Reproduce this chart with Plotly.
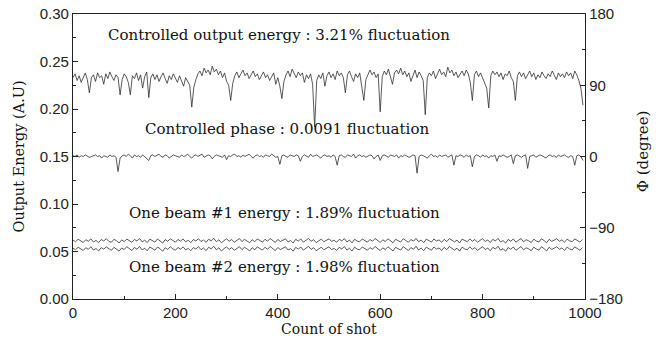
import plotly.graph_objects as go

shots_fine = list(range(0, 1000, 4))
shots_coarse = list(range(0, 1000, 5))

energy = [
    0.233,0.237,0.230,0.235,0.228,0.234,0.238,0.231,0.217,0.233,
    0.236,0.229,0.238,0.233,0.235,0.226,0.237,0.232,0.239,0.234,
    0.230,0.236,0.233,0.215,0.231,0.237,0.234,0.228,0.215,0.235,
    0.232,0.238,0.230,0.236,0.222,0.234,0.239,0.212,0.233,0.237,
    0.231,0.236,0.229,0.234,0.238,0.232,0.227,0.235,0.231,0.237,
    0.233,0.228,0.235,0.230,0.224,0.233,0.229,0.225,0.202,0.223,
    0.231,0.237,0.240,0.235,0.243,0.238,0.241,0.236,0.245,0.239,
    0.242,0.236,0.240,0.233,0.238,0.229,0.225,0.209,0.227,0.235,
    0.239,0.233,0.237,0.241,0.235,0.238,0.232,0.236,0.240,0.234,
    0.237,0.231,0.235,0.239,0.233,0.236,0.230,0.234,0.238,0.226,
    0.233,0.224,0.211,0.229,0.236,0.240,0.234,0.242,0.237,0.233,
    0.239,0.235,0.238,0.228,0.236,0.232,0.237,0.226,0.181,0.230,
    0.236,0.232,0.238,0.224,0.235,0.239,0.233,0.237,0.231,0.240,
    0.235,0.238,0.233,0.217,0.236,0.240,0.234,0.229,0.237,0.233,
    0.238,0.223,0.209,0.231,0.237,0.241,0.236,0.239,0.233,0.237,
    0.197,0.234,0.240,0.236,0.242,0.235,0.226,0.238,0.241,0.237,
    0.243,0.236,0.240,0.234,0.238,0.229,0.236,0.241,0.233,0.239,
    0.235,0.230,0.194,0.233,0.238,0.235,0.240,0.232,0.237,0.242,
    0.236,0.239,0.234,0.244,0.238,0.241,0.235,0.239,0.233,0.237,
    0.240,0.235,0.241,0.237,0.228,0.209,0.236,0.240,0.234,0.238,
    0.232,0.226,0.222,0.201,0.235,0.240,0.236,0.239,0.234,0.238,
    0.231,0.237,0.235,0.240,0.233,0.229,0.209,0.235,0.239,0.234,
    0.238,0.232,0.236,0.240,0.234,0.238,0.231,0.236,0.233,0.239,
    0.235,0.232,0.237,0.234,0.240,0.236,0.231,0.238,0.234,0.237,
    0.233,0.239,0.235,0.238,0.232,0.240,0.236,0.230,0.222,0.204,
]

phase = [
    1,0,2,-1,1,0,2,1,-1,0,
    1,2,0,1,-2,1,0,-1,2,0,
    1,-1,-19,-2,1,2,0,3,1,-2,
    2,0,1,-1,2,0,-2,-5,1,2,
    0,1,3,0,-1,2,1,-2,0,2,
    1,0,-1,2,0,1,3,0,-2,1,
    2,0,1,3,-1,0,2,1,-3,0,
    2,1,0,-1,2,-4,1,0,2,3,
    0,1,-1,2,0,1,3,0,-2,1,
    2,0,1,-1,2,1,0,3,1,-1,
    0,-10,1,2,0,-1,2,1,0,2,
    1,-6,0,2,1,-1,3,0,1,2,
    0,-2,1,2,0,1,-1,2,0,-11,
    1,2,0,-1,2,1,0,3,-2,1,
    2,0,1,-1,0,2,1,-3,0,2,
    -5,1,2,0,-1,2,1,0,2,-2,
    1,0,2,1,-1,0,2,1,-21,0,
    2,1,0,-2,1,3,0,1,-1,2,
    0,1,2,-1,0,2,-11,1,0,2,
    1,-1,2,0,1,-13,0,2,1,-1,
    2,0,1,-2,1,0,2,-6,1,0,
    2,1,-1,0,2,-9,1,2,0,-1,
    1,2,-15,0,1,2,-1,0,2,1,
    0,-2,1,2,0,1,-1,2,0,1,
    2,0,-1,1,0,-11,1,2,0,-5,
]

beam1 = [
    0.0618,0.0603,0.0629,0.0611,0.0596,0.0624,0.0608,0.0633,0.0600,0.0617,
    0.0592,0.0626,0.0610,0.0635,0.0606,0.0598,0.0628,0.0614,0.0590,0.0622,
    0.0604,0.0631,0.0612,0.0597,0.0627,0.0609,0.0637,0.0601,0.0619,0.0594,
    0.0630,0.0611,0.0599,0.0632,0.0615,0.0589,0.0625,0.0607,0.0634,0.0613,
    0.0598,0.0627,0.0609,0.0632,0.0602,0.0618,0.0593,0.0626,0.0611,0.0635,
    0.0605,0.0620,0.0596,0.0629,0.0612,0.0638,0.0603,0.0623,0.0591,0.0615,
    0.0633,0.0608,0.0626,0.0597,0.0617,0.0636,0.0604,0.0628,0.0610,0.0593,
    0.0624,0.0603,0.0632,0.0614,0.0599,0.0629,0.0608,0.0637,0.0612,0.0595,
    0.0627,0.0605,0.0619,0.0634,0.0601,0.0616,0.0589,0.0628,0.0610,0.0632,
    0.0598,0.0617,0.0638,0.0607,0.0625,0.0594,0.0613,0.0630,0.0603,0.0621,
    0.0633,0.0606,0.0618,0.0597,0.0628,0.0612,0.0636,0.0601,0.0620,0.0591,
    0.0629,0.0610,0.0603,0.0632,0.0615,0.0598,0.0626,0.0608,0.0637,0.0613,
    0.0595,0.0623,0.0606,0.0634,0.0617,0.0592,0.0628,0.0611,0.0600,0.0635,
    0.0614,0.0597,0.0626,0.0609,0.0638,0.0602,0.0621,0.0593,0.0630,0.0612,
    0.0599,0.0632,0.0610,0.0622,0.0596,0.0628,0.0604,0.0636,0.0615,0.0601,
    0.0620,0.0590,0.0630,0.0612,0.0603,0.0633,0.0608,0.0626,0.0597,0.0617,
    0.0635,0.0605,0.0622,0.0594,0.0628,0.0611,0.0638,0.0601,0.0615,0.0589,
    0.0627,0.0608,0.0632,0.0599,0.0618,0.0636,0.0603,0.0624,0.0613,0.0595,
    0.0630,0.0610,0.0600,0.0634,0.0615,0.0592,0.0628,0.0606,0.0620,0.0635,
    0.0607,0.0623,0.0597,0.0630,0.0612,0.0603,0.0633,0.0617,0.0599,0.0626,
]

beam2 = [
    0.0534,0.0519,0.0545,0.0527,0.0511,0.0540,0.0523,0.0550,0.0515,0.0532,
    0.0506,0.0541,0.0524,0.0549,0.0529,0.0512,0.0544,0.0526,0.0504,0.0537,
    0.0520,0.0551,0.0528,0.0510,0.0542,0.0524,0.0553,0.0516,0.0534,0.0507,
    0.0547,0.0527,0.0514,0.0548,0.0530,0.0502,0.0540,0.0521,0.0551,0.0528,
    0.0513,0.0543,0.0524,0.0549,0.0517,0.0533,0.0508,0.0541,0.0526,0.0552,
    0.0519,0.0536,0.0510,0.0545,0.0528,0.0555,0.0518,0.0539,0.0505,0.0531,
    0.0548,0.0522,0.0541,0.0512,0.0532,0.0551,0.0519,0.0544,0.0527,0.0507,
    0.0540,0.0517,0.0549,0.0530,0.0514,0.0545,0.0523,0.0553,0.0528,0.0509,
    0.0542,0.0520,0.0535,0.0550,0.0516,0.0531,0.0503,0.0544,0.0525,0.0547,
    0.0514,0.0532,0.0555,0.0522,0.0540,0.0508,0.0528,0.0546,0.0518,0.0536,
    0.0550,0.0520,0.0533,0.0511,0.0544,0.0527,0.0552,0.0515,0.0535,0.0505,
    0.0546,0.0525,0.0518,0.0548,0.0530,0.0513,0.0541,0.0523,0.0553,0.0528,
    0.0509,0.0538,0.0521,0.0550,0.0532,0.0506,0.0544,0.0526,0.0515,0.0551,
    0.0529,0.0511,0.0542,0.0524,0.0555,0.0516,0.0536,0.0508,0.0546,0.0527,
    0.0513,0.0548,0.0525,0.0538,0.0510,0.0543,0.0519,0.0552,0.0530,0.0515,
    0.0535,0.0504,0.0546,0.0527,0.0518,0.0549,0.0523,0.0541,0.0512,0.0532,
    0.0551,0.0520,0.0537,0.0508,0.0544,0.0526,0.0555,0.0515,0.0530,0.0502,
    0.0542,0.0523,0.0548,0.0513,0.0533,0.0552,0.0518,0.0539,0.0528,0.0509,
    0.0546,0.0525,0.0514,0.0550,0.0530,0.0506,0.0544,0.0521,0.0535,0.0551,
    0.0522,0.0538,0.0511,0.0546,0.0527,0.0517,0.0549,0.0532,0.0513,0.0541,
]

labels = [
    "Controlled output energy : 3.21% fluctuation",
    "Controlled phase : 0.0091 fluctuation",
    "One beam #1 energy : 1.89% fluctuation",
    "One beam #2 energy : 1.98% fluctuation",
]
label_x = [402, 418, 414, 414]
label_y = [0.278, 0.179, 0.0905, 0.0337]

x_ticks = [0, 200, 400, 600, 800, 1000]
y_ticks = [0.00, 0.05, 0.10, 0.15, 0.20, 0.25, 0.30]
y2_ticks = [-180, -90, 0, 90, 180]

line_style = dict(color="#2e2e2e", width=0.8)
serif = "DejaVu Serif"
sans = "Liberation Sans"

fig = go.Figure()
fig.add_trace(go.Scatter(x=shots_fine, y=energy, mode="lines", line=line_style, name="energy"))
fig.add_trace(go.Scatter(x=shots_coarse, y=beam1, mode="lines", line=line_style, name="beam1"))
fig.add_trace(go.Scatter(x=shots_coarse, y=beam2, mode="lines", line=line_style, name="beam2"))
fig.add_trace(go.Scatter(x=shots_fine, y=phase, mode="lines", line=line_style, name="phase", yaxis="y2"))

for t, xv, yv in zip(labels, label_x, label_y):
    fig.add_annotation(x=xv, y=yv, xref="x", yref="y", text=t, showarrow=False,
                       font=dict(family=serif, size=15, color="#111"))

# axis titles
fig.add_annotation(x=0.5, y=-0.106, xref="paper", yref="paper", text="Count of shot",
                   showarrow=False, xanchor="center", yanchor="middle",
                   font=dict(family=serif, size=14, color="#111"))
fig.add_annotation(x=-0.1074, y=0.5, xref="paper", yref="paper", text="Output Energy (A.U)",
                   showarrow=False, textangle=-90, xanchor="center", yanchor="middle",
                   font=dict(family=serif, size=14.5, color="#111"))
fig.add_annotation(x=1.113, y=0.5175, xref="paper", yref="paper", text="Φ (degree)",
                   showarrow=False, textangle=-90, xanchor="center", yanchor="middle",
                   font=dict(family=serif, size=15, color="#111"))

axis_common = dict(showline=True, linecolor="#222", linewidth=1.3, ticks="inside",
                   ticklen=5, tickwidth=1.2, tickcolor="#222", showgrid=False, zeroline=False,
                   automargin=False,
                   tickfont=dict(family=sans, size=15, color="#222"))

fig.update_layout(
    width=656, height=350,
    margin=dict(l=73, r=71, t=14, b=51),
    paper_bgcolor="white", plot_bgcolor="white",
    showlegend=False,
    xaxis=dict(range=[0, 1000], tickvals=x_ticks, mirror=True,
               minor=dict(dtick=100, ticklen=3, ticks="inside", tickcolor="#222"),
               **axis_common),
    yaxis=dict(range=[0, 0.30], tickvals=y_ticks, tickformat=".2f",
               minor=dict(dtick=0.025, ticklen=3, ticks="inside", tickcolor="#222"),
               **axis_common),
    yaxis2=dict(range=[-180, 180], tickvals=y2_ticks, overlaying="y", side="right",
                minor=dict(dtick=45, ticklen=3, ticks="inside", tickcolor="#222"),
                **axis_common),
)

fig.write_html("out.html")
